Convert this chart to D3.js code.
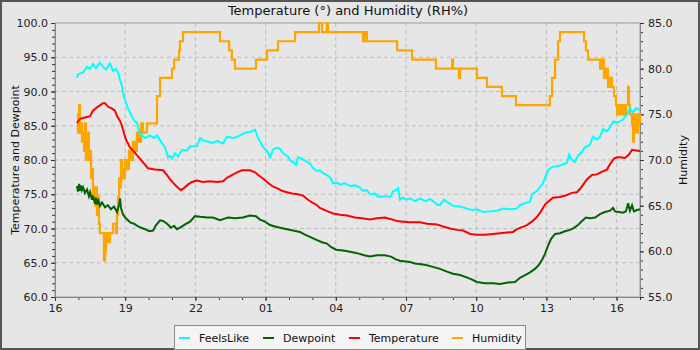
<!DOCTYPE html>
<html>
<head>
<meta charset="utf-8">
<script src="https://cdn.jsdelivr.net/npm/d3@7"></script>
<style>
  body { margin: 0; background: #fff; }
  svg { display: block; font-family: "DejaVu Sans", sans-serif; }
</style>
</head>
<body>
<div id="chart"></div>
<script>
// hours after 16:00, value
const feelsLike = [
  [0.94,92.0],[0.98,92.5],[1.20,92.8],[1.37,93.6],[1.50,93.3],[1.62,94.0],[1.75,93.4],[1.92,94.2],
  [2.05,93.6],[2.18,93.2],[2.35,94.1],[2.48,93.0],[2.61,93.3],[2.69,92.8],[2.78,91.7],[2.86,90.8],
  [2.91,89.8],[2.99,88.8],[3.12,87.5],[3.21,86.9],[3.29,86.3],[3.42,85.6],[3.50,85.5],[3.55,84.7],
  [3.63,83.9],[3.72,83.6],[3.85,83.2],[4.06,83.6],[4.23,83.2],[4.36,83.6],[4.49,82.9],[4.62,82.2],
  [4.70,81.9],[4.83,80.4],[4.91,80.6],[5.00,80.2],[5.13,81.0],[5.26,80.5],[5.43,81.5],[5.64,81.4],
  [5.77,82.0],[6.07,82.0],[6.20,83.2],[6.32,82.9],[6.50,82.7],[6.75,82.5],[6.92,82.8],[7.05,82.6],
  [7.18,82.4],[7.35,83.4],[7.61,83.2],[7.78,83.4],[7.91,83.6],[8.12,84.0],[8.33,84.1],[8.55,84.4],
  [8.68,83.2],[8.89,81.9],[9.06,81.3],[9.19,80.4],[9.32,81.5],[9.49,81.8],[9.62,81.6],[9.74,81.0],
  [9.96,80.5],[10.04,80.0],[10.17,79.7],[10.30,79.3],[10.38,80.4],[10.56,80.2],[10.73,79.8],[10.90,79.5],
  [11.03,78.8],[11.20,78.4],[11.32,78.5],[11.45,78.1],[11.62,77.8],[11.75,77.5],[11.88,76.6],[12.05,76.7],
  [12.18,76.4],[12.39,76.6],[12.61,76.2],[12.82,76.3],[13.03,76.0],[13.16,75.5],[13.33,75.6],[13.46,75.0],
  [13.68,75.1],[13.80,74.6],[14.10,74.7],[14.32,74.6],[14.44,75.4],[14.57,75.6],[14.66,75.9],[14.74,74.2],
  [14.87,74.5],[15.04,74.2],[15.17,74.4],[15.38,74.0],[15.60,74.4],[15.81,74.0],[16.03,74.3],[16.15,74.0],
  [16.32,73.5],[16.45,73.4],[16.62,74.2],[16.79,73.8],[17.01,73.3],[17.31,73.2],[17.61,72.9],[17.82,72.7],
  [18.03,72.8],[18.29,72.4],[18.59,72.5],[18.89,72.6],[19.15,72.9],[19.44,72.8],[19.74,72.9],[19.87,73.4],
  [20.09,73.7],[20.30,73.9],[20.38,75.0],[20.60,75.5],[20.85,76.6],[21.03,78.2],[21.15,78.8],[21.28,79.0],
  [21.58,79.2],[21.88,79.6],[21.97,80.8],[22.09,80.0],[22.22,79.7],[22.35,80.6],[22.52,81.2],[22.65,81.9],
  [22.86,82.2],[22.99,83.4],[23.16,83.0],[23.29,83.4],[23.42,84.5],[23.59,84.2],[23.72,84.8],[23.85,85.6],
  [24.06,85.5],[24.27,85.9],[24.44,86.6],[24.57,87.6],[24.70,86.9],[24.83,87.6],[25.00,87.3]
]

const dewpoint = [
  [0.94,76.2],[0.98,75.4],[1.03,76.5],[1.07,75.5],[1.11,76.3],[1.15,75.6],[1.20,76.0],[1.28,75.2],
  [1.37,75.7],[1.45,74.7],[1.50,75.3],[1.58,74.2],[1.62,74.8],[1.71,73.6],[1.75,74.5],[1.79,73.5],
  [1.84,74.3],[1.92,73.3],[2.01,73.8],[2.14,73.1],[2.26,73.4],[2.39,72.8],[2.52,73.2],[2.65,72.4],
  [2.74,73.5],[2.78,74.4],[2.82,73.0],[2.91,72.0],[3.03,71.5],[3.21,70.9],[3.38,70.7],[3.50,70.4],
  [3.68,70.1],[3.85,69.9],[4.02,69.6],[4.19,69.7],[4.32,70.5],[4.49,71.2],[4.62,71.1],[4.79,70.7],
  [4.96,70.1],[5.09,70.4],[5.21,69.9],[5.38,70.2],[5.56,70.6],[5.77,71.0],[5.98,71.8],[6.20,71.7],
  [6.50,71.6],[6.75,71.6],[7.05,71.2],[7.22,71.4],[7.39,71.6],[7.69,71.5],[8.03,71.6],[8.33,71.9],
  [8.59,71.8],[8.76,71.3],[8.97,71.0],[9.19,70.5],[9.40,70.3],[9.62,70.1],[9.91,69.9],[10.17,69.7],
  [10.47,69.5],[10.68,69.1],[10.94,68.7],[11.20,68.3],[11.41,68.0],[11.62,67.8],[11.79,67.3],[12.01,66.9],
  [12.31,66.8],[12.61,66.6],[12.91,66.4],[13.21,66.1],[13.46,65.9],[13.76,66.1],[14.10,66.1],[14.36,65.9],
  [14.57,65.5],[14.74,65.3],[15.17,65.1],[15.38,64.9],[15.81,64.7],[16.15,64.4],[16.45,64.1],[16.75,63.7],
  [17.01,63.4],[17.31,63.2],[17.56,62.9],[17.78,62.6],[18.03,62.2],[18.38,62.0],[18.72,62.0],[19.02,61.9],
  [19.36,62.1],[19.66,62.2],[19.87,62.8],[20.09,63.2],[20.30,63.6],[20.51,64.1],[20.68,64.7],[20.81,65.4],
  [20.94,66.3],[21.07,67.5],[21.20,68.5],[21.37,69.2],[21.58,69.3],[21.79,69.6],[22.01,69.8],[22.18,70.1],
  [22.35,70.5],[22.52,71.1],[22.69,71.6],[22.86,71.5],[23.08,71.6],[23.29,72.1],[23.50,72.4],[23.72,72.6],
  [23.85,73.0],[23.93,72.5],[24.10,72.4],[24.27,72.3],[24.40,72.5],[24.49,73.7],[24.57,72.6],[24.66,73.4],
  [24.74,72.5],[24.87,72.7],[25.00,72.8]
]

const temperature = [
  [0.94,85.4],[1.07,86.0],[1.28,86.2],[1.50,86.4],[1.62,87.2],[1.84,87.8],[2.05,88.3],[2.14,88.3],
  [2.26,87.8],[2.44,87.5],[2.56,87.2],[2.65,86.4],[2.78,85.7],[2.86,85.0],[2.95,83.9],[3.03,83.0],
  [3.12,82.4],[3.21,81.8],[3.38,81.2],[3.50,80.7],[3.63,80.2],[3.85,79.3],[3.97,78.8],[4.27,78.6],
  [4.62,78.5],[4.79,77.8],[4.91,77.2],[5.04,76.7],[5.21,76.1],[5.38,75.6],[5.51,75.9],[5.68,76.4],
  [5.85,76.8],[6.07,77.0],[6.32,76.8],[6.62,76.9],[6.92,76.8],[7.18,76.9],[7.35,77.4],[7.56,77.8],
  [7.78,78.2],[7.99,78.5],[8.33,78.5],[8.55,78.2],[8.68,77.8],[8.89,77.3],[9.06,76.8],[9.32,76.1],
  [9.49,75.9],[9.70,75.5],[9.91,75.3],[10.13,75.1],[10.38,75.0],[10.60,74.8],[10.77,74.3],[10.98,73.8],
  [11.20,73.4],[11.32,73.0],[11.58,72.6],[11.88,72.2],[12.18,72.0],[12.48,71.9],[12.82,71.6],[13.12,71.5],
  [13.46,71.3],[13.76,71.5],[14.10,71.6],[14.32,71.4],[14.62,71.1],[14.87,71.0],[15.17,70.9],[15.60,70.9],
  [15.90,70.7],[16.32,70.6],[16.58,70.3],[16.88,70.0],[17.18,69.8],[17.44,69.7],[17.74,69.2],[18.03,69.1],
  [18.38,69.1],[18.72,69.2],[19.02,69.3],[19.32,69.4],[19.57,69.5],[19.74,69.9],[19.96,70.2],[20.17,70.5],
  [20.38,71.0],[20.60,71.7],[20.77,72.5],[20.94,73.5],[21.11,74.0],[21.28,74.5],[21.58,74.6],[21.88,74.9],
  [22.09,75.2],[22.31,75.3],[22.44,75.8],[22.61,76.6],[22.74,77.2],[22.95,77.8],[23.16,77.9],[23.38,78.3],
  [23.59,78.6],[23.72,79.4],[23.89,80.2],[24.02,80.4],[24.15,80.4],[24.36,80.3],[24.53,80.8],[24.66,81.5],
  [24.83,81.4],[25.00,81.3]
]

const humidity = [
  [0.94,75],[0.98,73],[1.03,76],[1.07,73],[1.11,74],[1.15,72],[1.20,73],[1.24,71],[1.28,74],[1.32,70],
  [1.37,72],[1.41,73],[1.45,70],[1.50,71],[1.54,68],[1.58,69],[1.62,66],[1.67,67],[1.71,65],[1.75,67],
  [1.79,64],[1.84,66],[1.88,63],[1.92,62],[2.09,59],[2.14,60],[2.18,62],[2.26,61],[2.35,62],[2.48,63],
  [2.61,62],[2.65,64],[2.69,66],[2.74,68],[2.78,67],[2.82,70],[2.86,69],[2.91,68],[2.99,70],[3.08,69],
  [3.16,71],[3.25,70],[3.33,72],[3.42,71],[3.50,73],[3.59,72],[3.68,74],[3.76,73],[3.93,74],[4.19,74],
  [4.36,77],[4.49,79],[5.00,80],[5.09,81],[5.30,82],[5.34,83],[5.47,84],[7.05,83],[7.44,82],[7.56,81],
  [7.69,80],[8.59,81],[9.06,82],[9.53,83],[10.26,84],[11.28,85],[11.41,84],[11.62,85],[11.67,84],[13.16,83],
  [13.25,84],[13.33,83],[14.62,82],[15.26,81],[16.28,80],[16.97,81],[17.01,80],[17.26,79],[17.31,80],[18.03,79],
  [18.46,78],[19.10,77],[19.70,76],[21.15,77],[21.24,79],[21.37,81],[21.50,83],[21.58,84],[22.61,83],[22.69,82],
  [22.78,81],[23.29,80],[23.38,81],[23.46,79],[23.55,80],[23.63,78],[23.72,79],[23.80,78],[23.89,77],[23.97,76],
  [24.02,75],[24.06,76],[24.15,75],[24.23,76],[24.32,75],[24.40,76],[24.49,78],[24.53,76],[24.57,75],[24.66,74],
  [24.70,72],[24.74,75],[24.83,73],[24.91,75],[25.00,74]
]

const xTicks = [0, 3, 6, 9, 12, 15, 18, 21, 24]
const startHour = 16

const width = 700
const height = 350
const plotLeft = 55, plotRight = 640, plotTop = 23, plotBottom = 297

const svg = d3.select("#chart").append("svg")
  .attr("width", width)
  .attr("height", height)

svg.append("rect")
  .attr("x", 1).attr("y", 1)
  .attr("width", width - 2).attr("height", height - 2)
  .attr("fill", "#e6e6e6")
  .attr("stroke", "#555")
  .attr("stroke-width", 2)

const x = d3.scaleLinear().domain([0, 25]).range([plotLeft, plotRight])
const yL = d3.scaleLinear().domain([60, 100]).range([plotBottom, plotTop])
const yR = d3.scaleLinear().domain([55, 85]).range([plotBottom, plotTop])

// grid
svg.append("g").selectAll("line")
  .data(xTicks.slice(1))
  .enter().append("line")
  .attr("x1", d => x(d)).attr("x2", d => x(d))
  .attr("y1", plotTop).attr("y2", plotBottom)
  .attr("stroke", "#bdbdbd").attr("stroke-dasharray", "4,3")

svg.append("g").selectAll("line")
  .data(d3.range(65, 100, 5))
  .enter().append("line")
  .attr("x1", plotLeft).attr("x2", plotRight)
  .attr("y1", d => yL(d)).attr("y2", d => yL(d))
  .attr("stroke", "#bdbdbd").attr("stroke-dasharray", "4,3")

svg.append("rect")
  .attr("x", plotLeft).attr("y", plotTop)
  .attr("width", plotRight - plotLeft).attr("height", plotBottom - plotTop)
  .attr("fill", "none").attr("stroke", "#9a9a9a")

// axes
const fmt = d3.format(".1f")
const pad = h => String((startHour + h) % 24).padStart(2, "0")

function styleAxis(g) {
  g.select(".domain").attr("stroke", "#888")
  g.selectAll(".tick line").attr("stroke", "#333")
  g.selectAll(".tick text").attr("fill", "#222").style("font-size", "11px")
    .style("font-family", "DejaVu Sans")
}

function minor(g) {
  g.selectAll(".tick text").remove()
  g.select(".domain").remove()
  g.selectAll(".tick line").attr("stroke", "#333")
}

svg.append("g").attr("transform", `translate(0,${plotBottom})`)
  .call(d3.axisBottom(x).tickValues(d3.range(0, 26, 1)).tickSize(3))
  .call(minor)
svg.append("g").attr("transform", `translate(0,${plotBottom})`)
  .call(d3.axisBottom(x).tickValues(xTicks).tickFormat(pad).tickSize(4).tickSizeOuter(0).tickPadding(3))
  .call(styleAxis)

svg.append("g").attr("transform", `translate(${plotLeft},0)`)
  .call(d3.axisLeft(yL).tickValues(d3.range(60, 101, 1)).tickSize(3))
  .call(minor)
svg.append("g").attr("transform", `translate(${plotLeft},0)`)
  .call(d3.axisLeft(yL).tickValues(d3.range(60, 101, 5)).tickFormat(fmt).tickSize(4).tickSizeOuter(0).tickPadding(3))
  .call(styleAxis)

svg.append("g").attr("transform", `translate(${plotRight},0)`)
  .call(d3.axisRight(yR).tickValues(d3.range(55, 86, 1)).tickSize(3))
  .call(minor)
svg.append("g").attr("transform", `translate(${plotRight},0)`)
  .call(d3.axisRight(yR).tickValues(d3.range(55, 86, 5)).tickFormat(fmt).tickSize(4).tickSizeOuter(0).tickPadding(4))
  .call(styleAxis)

// series
const lineL = d3.line().x(d => x(d[0])).y(d => yL(d[1]))
const lineR = d3.line().x(d => x(d[0])).y(d => yR(d[1])).curve(d3.curveStepAfter)

const plot = svg.append("g")
plot.append("path").datum(humidity).attr("d", lineR)
  .attr("fill", "none").attr("stroke", "#ffa500").attr("stroke-width", 2.2)
plot.append("path").datum(feelsLike).attr("d", lineL)
  .attr("fill", "none").attr("stroke", "#00ffff").attr("stroke-width", 2)
plot.append("path").datum(dewpoint).attr("d", lineL)
  .attr("fill", "none").attr("stroke", "#006400").attr("stroke-width", 2)
plot.append("path").datum(temperature).attr("d", lineL)
  .attr("fill", "none").attr("stroke", "#ff0000").attr("stroke-width", 2)

// title and labels
svg.append("text")
  .attr("x", 348).attr("y", 15)
  .attr("text-anchor", "middle")
  .style("font-size", "13px").attr("fill", "#111")
  .text("Temperature (°) and Humidity (RH%)")

svg.append("text")
  .attr("transform", `translate(19,${(plotTop + plotBottom) / 2}) rotate(-90)`)
  .attr("text-anchor", "middle")
  .style("font-size", "11px").attr("fill", "#111")
  .text("Temperature and Dewpoint")

svg.append("text")
  .attr("transform", `translate(687,${(plotTop + plotBottom) / 2}) rotate(-90)`)
  .attr("text-anchor", "middle")
  .style("font-size", "11px").attr("fill", "#111")
  .text("Humidity")

// legend
const legendItems = [
  { name: "FeelsLike", color: "#00ffff", lx: 179, tx: 199 },
  { name: "Dewpoint", color: "#006400", lx: 263, tx: 283 },
  { name: "Temperature", color: "#ff0000", lx: 349, tx: 369 },
  { name: "Humidity", color: "#ffa500", lx: 452, tx: 472 }
]

const legend = svg.append("g")
legend.append("rect")
  .attr("x", 174.5).attr("y", 325.5)
  .attr("width", 351).attr("height", 24)
  .attr("fill", "#f4f4f4").attr("stroke", "#8a8a8a")

legendItems.forEach(item => {
  legend.append("line")
    .attr("x1", item.lx).attr("x2", item.lx + 11)
    .attr("y1", 338).attr("y2", 338)
    .attr("stroke", item.color).attr("stroke-width", 2)
  legend.append("text")
    .attr("x", item.tx).attr("y", 342)
    .style("font-size", "11px").attr("fill", "#111")
    .text(item.name)
})
</script>
</body>
</html>
